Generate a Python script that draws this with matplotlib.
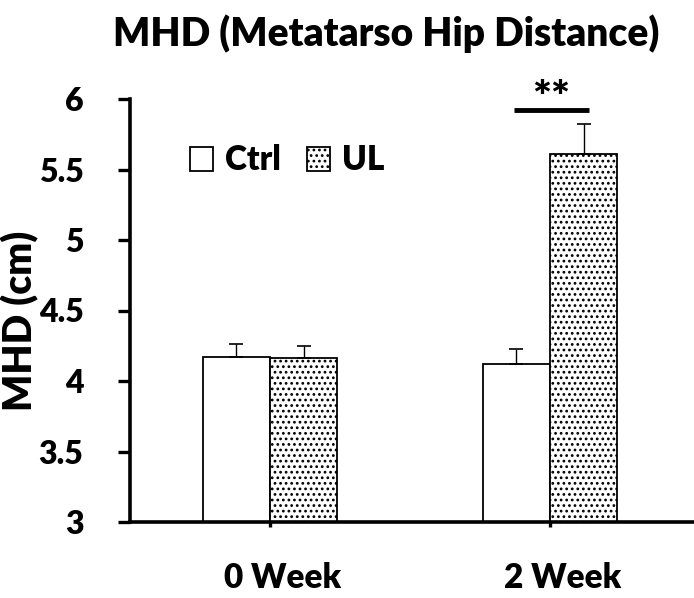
import matplotlib
matplotlib.use("Agg")
import matplotlib.pyplot as plt
import numpy as np

plt.rcParams['font.family'] = ['Lato', 'DejaVu Sans']
plt.rcParams['font.weight'] = 'heavy'
plt.rcParams['hatch.linewidth'] = 1.2

categories = ["0 Week", "2 Week"]
series = ["Ctrl", "UL"]
ctrl_vals = [4.17, 4.12]
ctrl_err = [0.09, 0.11]
ul_vals = [4.16, 5.61]
ul_err = [0.09, 0.21]
yticks = [3, 3.5, 4, 4.5, 5, 5.5, 6]
ytick_labels = ["3", "3.5", "4", "4.5", "5", "5.5", "6"]
sig_label = "**"
W = 'heavy'

fig = plt.figure(figsize=(6.94, 5.98), dpi=100)
ax = fig.add_axes([130/694, 1-522/598, 1-130/694, (522-99)/598])

x = np.arange(len(categories))
w = 0.24
ekw = dict(elinewidth=1.0, capsize=5, capthick=1.2, ecolor='black')
ax.bar(x - w/2, ctrl_vals, w, color='white', edgecolor='black',
       linewidth=1.3, label=series[0],
       yerr=[np.zeros(len(ctrl_err)), ctrl_err], error_kw=ekw, zorder=2)
ax.bar(x + w/2, ul_vals, w, color='white', edgecolor='black', hatch='...',
       linewidth=1.3, label=series[1],
       yerr=[np.zeros(len(ul_err)), ul_err], error_kw=ekw, zorder=2)

ax.set_ylim(3, 6)
ax.set_xlim(-0.5, 1.514)
ax.set_yticks(yticks)
ax.set_yticklabels(ytick_labels, fontsize=23, fontweight=W)
# major ticks (marks) at category centres, labels on minor ticks slightly right
ax.set_xticks(x)
ax.set_xticklabels([])
ax.set_xticks(x + 0.045, minor=True)
ax.set_xticklabels(categories, minor=True, fontsize=24, fontweight=W)

for s in ['top', 'right']:
    ax.spines[s].set_visible(False)
for s in ['left', 'bottom']:
    ax.spines[s].set_linewidth(2.6)
ax.tick_params(axis='y', direction='out', length=8.5, width=2.4, pad=25)
ax.tick_params(axis='x', which='major', direction='out', length=3.5, width=2.4)
ax.tick_params(axis='x', which='minor', length=0, pad=29)

ax.set_ylabel("MHD (cm)", fontsize=28, fontweight=W)
ax.yaxis.set_label_coords(-0.16, 0.475)

# significance bar
ax.plot([1 - 0.129, 1 + 0.139], [5.92, 5.92], color='black', linewidth=3.5,
        solid_capstyle='butt', clip_on=False)
ax.text(1 + 0.005, 6.0, sig_label, ha='center', va='center', fontsize=32,
        fontweight=W, clip_on=False)

ax.legend(loc='upper left', bbox_to_anchor=(0.082, 0.924), ncol=2,
          frameon=False, prop={'size': 24, 'weight': W},
          handlelength=0.7, handleheight=0.75, handletextpad=0.35,
          columnspacing=0.8, borderaxespad=0)

fig.text(0.556, 0.943, "MHD (Metatarso Hip Distance)", ha='center', va='center',
         fontsize=28, fontweight=W)

fig.savefig("out.png", dpi=100)
